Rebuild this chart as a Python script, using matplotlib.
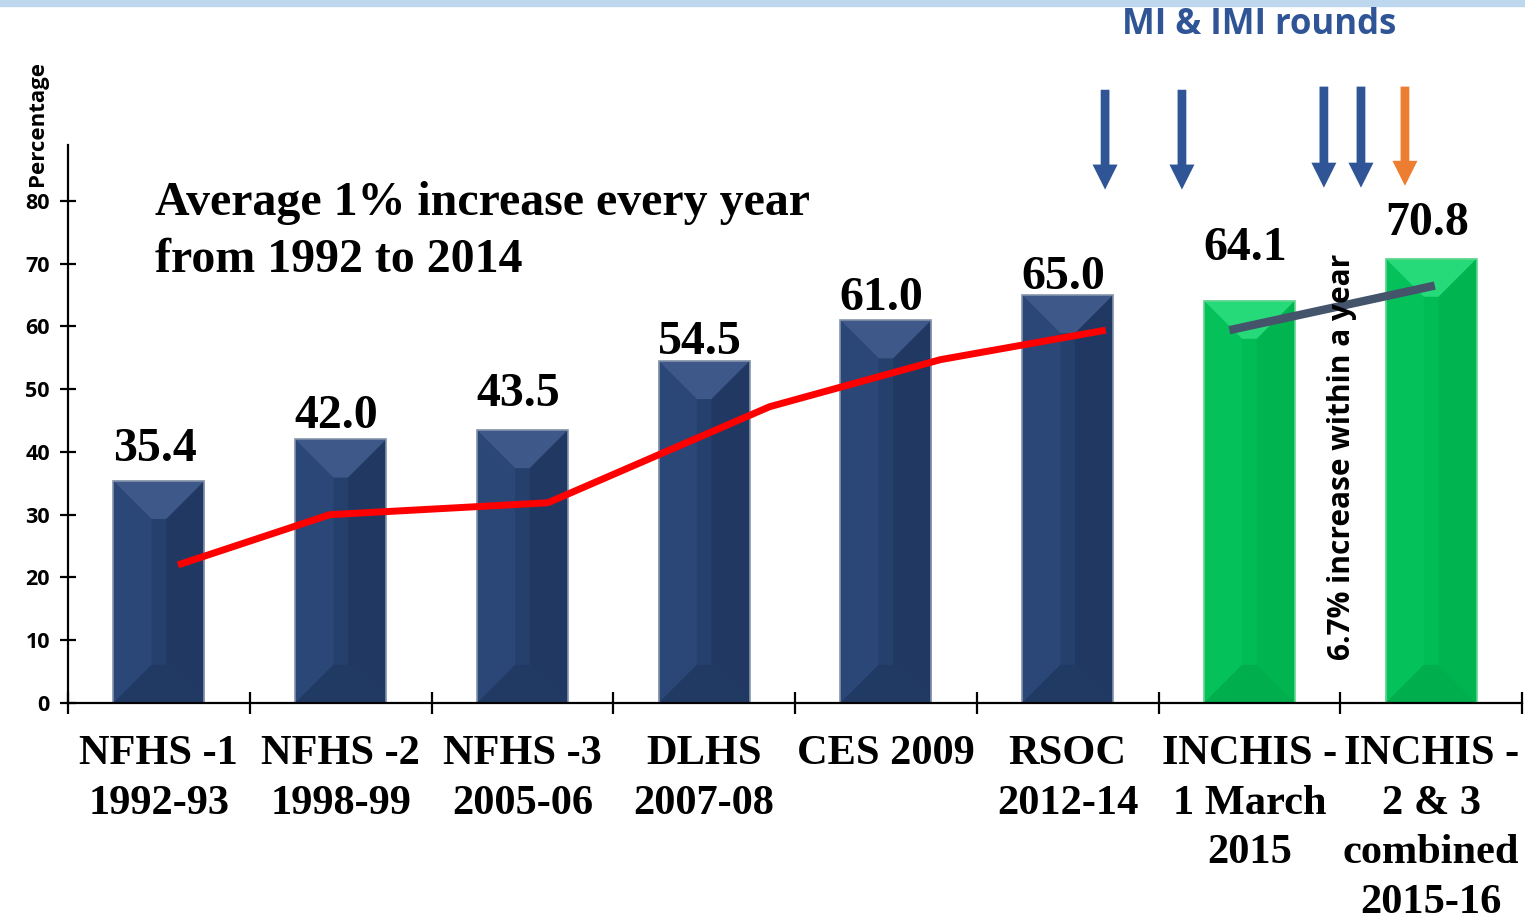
import numpy as np
import matplotlib.pyplot as plt
from matplotlib.patches import Polygon, Rectangle

# data
labels = ["NFHS -1\n1992-93", "NFHS -2\n1998-99", "NFHS -3\n2005-06", "DLHS\n2007-08",
          "CES 2009", "RSOC\n2012-14", "INCHIS -\n1 March\n2015", "INCHIS -\n2 & 3\ncombined\n2015-16"]
values = [35.4, 42.0, 43.5, 54.5, 61.0, 65.0, 64.1, 70.8]
is_inchis = [False, False, False, False, False, False, True, True]

# red trend line (x in category units)
trend_x = [0.105, 0.94, 2.14, 3.36, 4.30, 5.21]
trend_y = [22.0, 30.0, 31.9, 47.2, 54.7, 59.4]

# grey line between INCHIS rounds
inchis_x = [5.89, 7.02]
inchis_y = [59.4, 66.5]

# MI & IMI round arrows
arrow_x = [5.206, 5.629, 6.41, 6.614, 6.856]
arrow_top = [97.7, 97.7, 98.2, 98.2, 98.2]
arrow_tip = [81.8, 81.8, 82.1, 82.1, 82.4]
arrow_col = ["#2F5597", "#2F5597", "#2F5597", "#2F5597", "#ED7D31"]

# gap between bar top and the baseline of its value label (points)
label_gap = [14, 8, 17, 5, 7, 4, 29, 17]

serif = "Liberation Serif"
sans = "Open Sans"

fig = plt.figure(figsize=(15.25, 9.19), dpi=100)
ax = fig.add_axes([68/1525, 1-703/919, (1522-68)/1525, (703-145)/919])
ax.set_xlim(-0.5, len(values)-0.5)
ax.set_ylim(0, 88.9)

# light blue band on top
fig.patches.append(Rectangle((0, 1-6/919), 1, 6/919, transform=fig.transFigure,
                             color="#BDD7EE", zorder=0))

# bars with a soft bevel look
w = 0.5
px_x = ax.transData.transform((1, 0))[0] - ax.transData.transform((0, 0))[0]
px_y = ax.transData.transform((0, 1))[1] - ax.transData.transform((0, 0))[1]
d = 0.21
dy = d * px_x / px_y
for i, h in enumerate(values):
    if is_inchis[i]:
        body, top, bot, left, right, edge = "#00BC55", "#26DA7A", "#00AE4D", "#04C15A", "#00B450", "#5FD68E"
    else:
        body, top, bot, left, right, edge = "#26406D", "#3E5989", "#213A63", "#2B4777", "#213962", "#8593AA"
    x0, x1 = i - w/2, i + w/2
    ax.add_patch(Rectangle((x0, 0), w, h, facecolor=body, lw=0, zorder=2))
    ax.add_patch(Polygon([(x0, 0), (x0+d, dy), (x0+d, h-dy), (x0, h)], closed=True,
                         facecolor=left, lw=0, zorder=2))
    ax.add_patch(Polygon([(x1, 0), (x1-d, dy), (x1-d, h-dy), (x1, h)], closed=True,
                         facecolor=right, lw=0, zorder=2))
    ax.add_patch(Polygon([(x0, h), (x1, h), (x1-d, h-dy), (x0+d, h-dy)], closed=True,
                         facecolor=top, lw=0, zorder=2))
    ax.add_patch(Polygon([(x0, 0), (x1, 0), (x1-d, dy), (x0+d, dy)], closed=True,
                         facecolor=bot, lw=0, zorder=2))
    ax.add_patch(Rectangle((x0, 0), w, h, facecolor="none", edgecolor=edge, lw=1.2, zorder=2))
    ax.annotate("%.1f" % h, (i, h), xytext=(-3, label_gap[i]), textcoords="offset points",
                ha="center", va="baseline", fontsize=34.5, fontweight="bold", family=serif)

ax.plot(trend_x, trend_y, color="#FF0000", lw=5, zorder=3, solid_capstyle="butt")
ax.plot(inchis_x, inchis_y, color="#44546A", lw=6, zorder=3, solid_capstyle="butt")

for xa, yt, yb, c in zip(arrow_x, arrow_top, arrow_tip, arrow_col):
    ax.annotate("", xy=(xa, yb), xytext=(xa, yt), annotation_clip=False,
                arrowprops=dict(arrowstyle="simple,tail_width=0.35,head_width=1.0,head_length=1.0",
                                mutation_scale=18, color=c, shrinkA=0, shrinkB=0, lw=0))

# axes
for s in ["top", "right"]:
    ax.spines[s].set_visible(False)
ax.spines["left"].set_linewidth(1.6)
ax.spines["bottom"].set_linewidth(1.6)
ax.set_yticks(np.arange(0, 81, 10))
ax.tick_params(axis="y", direction="inout", length=12, width=1.6, pad=7)
for t in ax.get_yticklabels():
    t.set_fontsize(15.5)
    t.set_fontweight("bold")
    t.set_family(sans)
ax.set_xticks(np.arange(-0.5, len(values), 1.0))
ax.set_xticklabels([])
ax.tick_params(axis="x", which="major", direction="inout", length=16, width=1.6)
ax.set_xticks(np.arange(len(values)), minor=True)
ax.set_xticklabels(labels, minor=True, fontsize=30.5, fontweight="bold", family=serif,
                   linespacing=1.40)
ax.tick_params(axis="x", which="minor", length=0, pad=23)

# texts
fig.text(38/1525, 1-123/919, "Percentage", rotation=90, ha="center", va="center",
         fontsize=16, fontweight="bold", family=sans)
fig.text(155/1525, 1-181/919, "Average 1% increase every year\nfrom 1992 to 2014", ha="left", va="top",
         fontsize=34.5, fontweight="bold", family=serif, linespacing=1.39)
fig.text(1259/1525, 1-25/919, "MI & IMI rounds", ha="center", va="center", color="#2F5597",
         fontsize=25, fontweight="bold", family=sans)
fig.text(1342/1525, 1-457/919, "6.7% increase within a year", rotation=90, ha="center", va="center",
         fontsize=21.5, fontweight="bold", family=sans, zorder=5)

fig.savefig("out.png", dpi=100)
